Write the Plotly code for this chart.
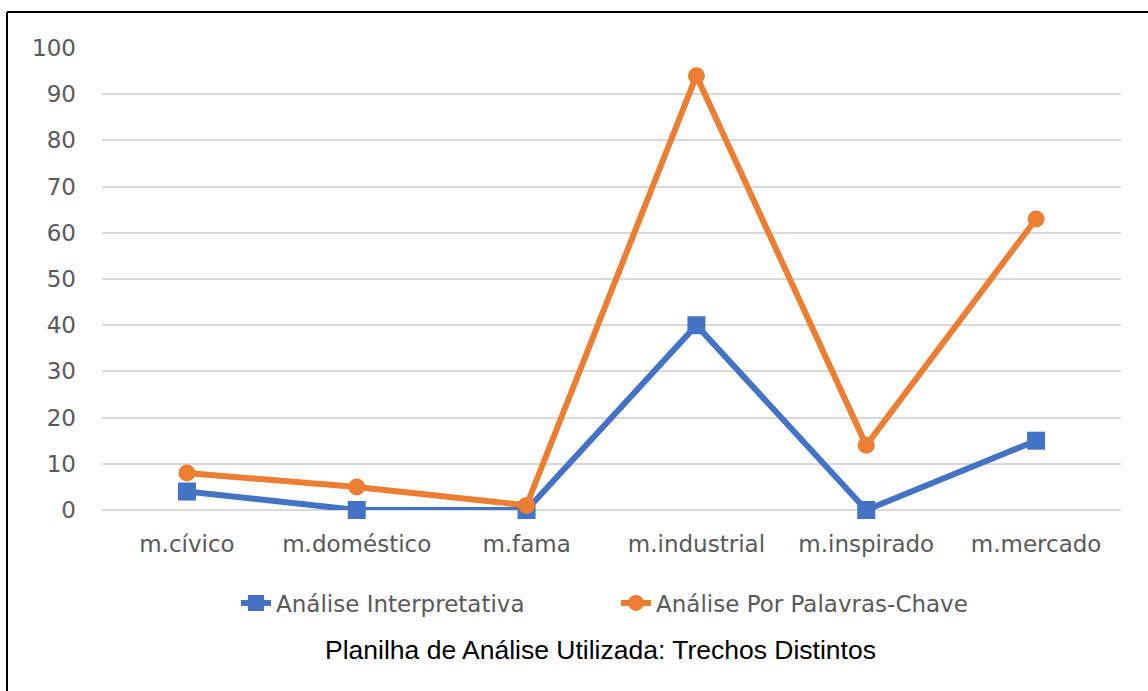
import plotly.graph_objects as go

# Chart data
categorias = ["m.cívico", "m.doméstico", "m.fama", "m.industrial", "m.inspirado", "m.mercado"]
interpretativa = [4, 0, 0, 40, 0, 15]
palavras_chave = [8, 5, 1, 94, 14, 63]
y_ticks = [0, 10, 20, 30, 40, 50, 60, 70, 80, 90, 100]

W, H = 1148, 691
# plot area in pixels
PL, PR, PT, PB = 102, 1121, 48, 510

def px_x(x):
    return (x - PL) / (PR - PL)

def px_y(y):
    return (PB - y) / (PB - PT)

AZUL = "#4472C4"
LARANJA = "#ED7D31"
CINZA = "#595959"
FONTE = "DejaVu Sans"
TAM = 23

fig = go.Figure()
fig.add_trace(go.Scatter(
    x=categorias, y=interpretativa, name="Análise Interpretativa",
    mode="lines+markers",
    line=dict(color=AZUL, width=6),
    marker=dict(symbol="square", size=18, color=AZUL),
    cliponaxis=False,
))
fig.add_trace(go.Scatter(
    x=categorias, y=palavras_chave, name="Análise Por Palavras-Chave",
    mode="lines+markers",
    line=dict(color=LARANJA, width=6),
    marker=dict(symbol="circle", size=17, color=LARANJA),
    cliponaxis=False,
))

fig.update_layout(
    width=W, height=H,
    margin=dict(l=PL, r=W - PR, t=PT, b=H - PB, pad=0),
    paper_bgcolor="white", plot_bgcolor="white",
    font=dict(family=FONTE, size=TAM, color=CINZA),
    showlegend=True,
    legend=dict(
        orientation="h", x=px_x(236), xanchor="left",
        y=px_y(603), yanchor="middle",
        font=dict(family=FONTE, size=TAM, color=CINZA),
        entrywidth=335, entrywidthmode="pixels",
        bgcolor="rgba(0,0,0,0)",
    ),
    xaxis=dict(
        range=[-0.5, 5.5],
        showgrid=False, zeroline=False, showline=False, ticks="",
        tickfont=dict(family=FONTE, size=TAM, color=CINZA),
        ticklabelstandoff=18,
        fixedrange=True,
    ),
    yaxis=dict(
        range=[0, 100], tickvals=y_ticks,
        showgrid=True, gridcolor="#D9D9D9", gridwidth=2,
        zeroline=True, zerolinecolor="#D9D9D9", zerolinewidth=2,
        showline=False, ticks="",
        tickfont=dict(family=FONTE, size=TAM, color=CINZA),
        ticklabelstandoff=25,
        fixedrange=True,
    ),
    annotations=[dict(
        text="Planilha de Análise Utilizada: Trechos Distintos",
        xref="paper", yref="paper", x=px_x(600), y=px_y(650),
        xanchor="center", yanchor="middle", showarrow=False,
        font=dict(family="Liberation Sans", size=26.5, color="#000000"),
    )],
    shapes=[
        # frame around the chart (top and left edges)
        dict(type="line", xref="paper", yref="paper",
             x0=px_x(7), x1=px_x(W + 5), y0=px_y(12), y1=px_y(12),
             line=dict(color="black", width=2)),
        dict(type="line", xref="paper", yref="paper",
             x0=px_x(7), x1=px_x(7), y0=px_y(12), y1=px_y(H + 5),
             line=dict(color="black", width=2)),
    ],
)

fig.write_html("out.html", config={"displayModeBar": False})
